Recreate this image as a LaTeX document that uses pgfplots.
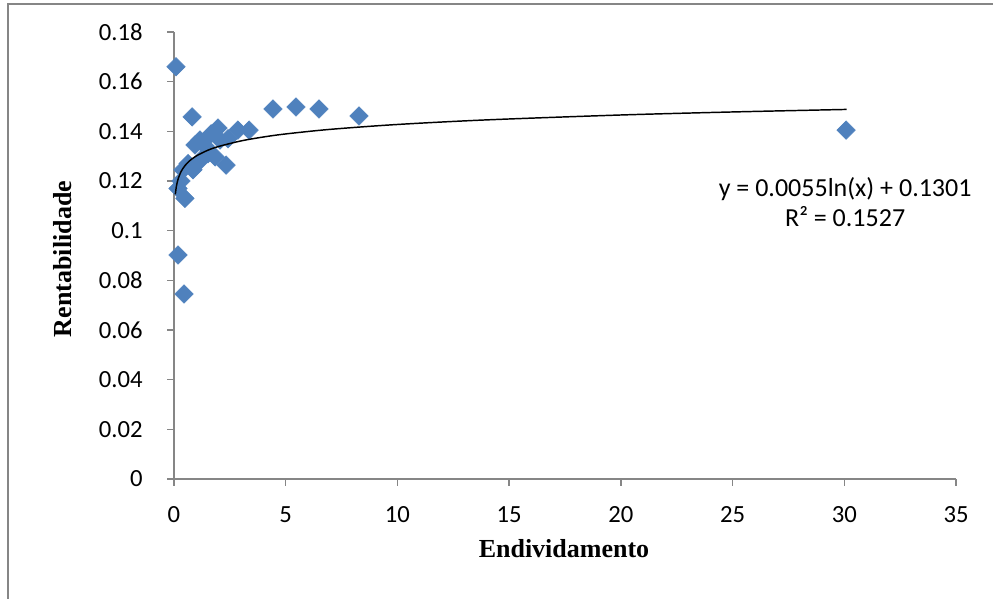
\documentclass[border=0pt]{standalone}
\usepackage{pgfplots}
\pgfplotsset{compat=1.18}
\usepackage{fontspec}
\setmainfont{Carlito}
\newfontfamily\timesf{Liberation Serif}
\definecolor{xlblue}{HTML}{4F81BD}
\definecolor{axgray}{HTML}{868686}
\begin{document}
\begin{tikzpicture}
\begin{axis}[
  set layers,
  scale only axis,
  width=586.5pt, height=335.25pt,
  xmin=0, xmax=35, ymin=0, ymax=0.18,
  axis x line*=bottom, axis y line*=left,
  axis line style={axgray, line width=1pt},
  xtick={0,5,...,35},
  ytick={0,0.02,...,0.18},
  tick align=outside,
  tick style={axgray, line width=1pt},
  major tick length=5pt,
  tick label style={font=\fontsize{18.5}{20}\selectfont},
  /pgf/number format/assume math mode=true,
  yticklabel style={/pgf/number format/fixed, /pgf/number format/precision=2},
  xticklabel style={yshift=-12pt},
  yticklabel style={xshift=-15pt},
  clip=false,
]
\addplot[only marks, mark=square*, mark size=4.9pt, mark options={rotate=45, fill=xlblue, draw=xlblue}] coordinates {
(0.09,0.166)
(0.81,0.1458)
(0.18,0.0902)
(0.45,0.0745)
(0.49,0.113)
(0.18,0.117)
(0.31,0.120)
(0.40,0.1245)
(0.63,0.127)
(0.85,0.1245)
(0.94,0.1345)
(1.16,0.1365)
(1.2,0.1285)
(1.4,0.134)
(1.52,0.131)
(1.66,0.139)
(1.84,0.1297)
(1.97,0.1413)
(2.06,0.1365)
(2.33,0.1264)
(2.42,0.137)
(2.86,0.1405)
(3.36,0.1405)
(4.43,0.149)
(5.46,0.1498)
(6.49,0.149)
(8.28,0.1462)
(30.08,0.1405)
};
\addplot[black, line width=1.1pt, smooth, on layer=axis foreground] coordinates {
(0.06,0.11463)
(0.1,0.11744)
(0.15,0.11967)
(0.2,0.12125)
(0.3,0.12348)
(0.4,0.12506)
(0.5,0.12629)
(0.7,0.12814)
(1,0.13010)
(1.5,0.13233)
(2,0.13391)
(3,0.13614)
(4,0.13772)
(5,0.13895)
(7,0.14080)
(10,0.14276)
(14,0.14461)
(20,0.14658)
(25,0.14780)
(30.1,0.14882)
};
\node[anchor=base, font=\fontsize{19.5}{21}\selectfont] at (axis cs:30.04,0.1136) {y = 0.0055ln(x) + 0.1301};
\node[anchor=base, font=\fontsize{19.5}{21}\selectfont] at (axis cs:30.04,0.1015) {R² = 0.1527};
\end{axis}
\node[anchor=base, font=\timesf\bfseries\fontsize{19.5}{22}\selectfont] at (292.5pt,-59.25pt) {Endividamento};
\node[rotate=90, font=\timesf\bfseries\fontsize{19.5}{22}\selectfont] at (-83.25pt,165pt) {Rentabilidade};
\draw[axgray, line width=1.2pt] (-124.5pt,-100pt) -- (-124.5pt,356.25pt) -- (620pt,356.25pt);
\pgfresetboundingbox
\path[use as bounding box] (-130.5pt,-90pt) rectangle (614.25pt,359.25pt);
\end{tikzpicture}
\end{document}
